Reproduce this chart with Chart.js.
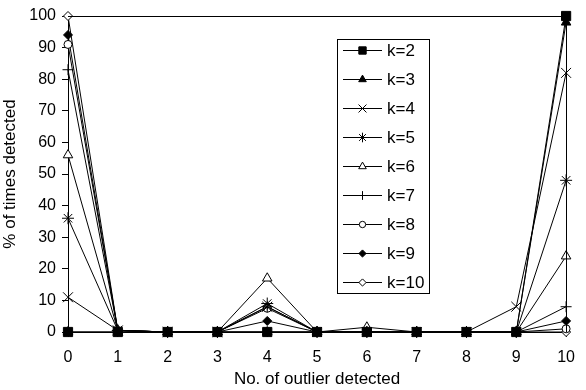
<!DOCTYPE html>
<html>
<head>
<meta charset="utf-8">
<script src="https://cdn.jsdelivr.net/npm/chart.js@4.4.1/dist/chart.umd.min.js"></script>
<style>
    html, body { margin: 0; padding: 0; background: #fff; }
    #wrap { width: 586px; height: 390px; }
</style>
</head>
<body>
<div id="wrap"><canvas id="outlierChart"></canvas></div>
<script>
const outliers = ['0', '1', '2', '3', '4', '5', '6', '7', '8', '9', '10'];
const yTicks = [0, 10, 20, 30, 40, 50, 60, 70, 80, 90, 100];

const k2 = [0, 0, 0, 0, 0, 0, 0, 0, 0, 0, 100];
const k3 = [0, 0, 0, 0, 0, 0, 0, 0, 0, 0, 98];
const k4 = [11, 0.5, 0, 0, 8, 0, 0, 0, 0, 8, 82];
const k5 = [36, 0.5, 0, 0, 9, 0, 0, 0, 0, 0, 48];
const k6 = [56, 0.5, 0, 0, 17, 0, 1.5, 0, 0, 0, 24];
const k7 = [83, 0.5, 0, 0, 8, 0, 0, 0, 0, 0, 8];
const k8 = [91, 0.5, 0, 0, 7.5, 0, 0, 0, 0, 0, 1];
const k9 = [94, 0.5, 0, 0, 3.5, 0, 0, 0, 0, 0, 3.5];
const k10 = [100, 0.5, 0, 0, 0, 0, 0, 0, 0, 0, 0];

const FONT = "'Liberation Sans', Arial, sans-serif";

function series(label, data, style, radius, filled) {
    return {
        label: label,
        data: data,
        borderColor: '#000',
        borderWidth: 1,
        pointStyle: style,
        pointRadius: radius,
        pointBorderWidth: 1,
        pointBorderColor: '#000',
        pointBackgroundColor: filled ? '#000' : '#fff',
        tension: 0,
        clip: false
    };
}

const frameAndLegend = {
    id: 'frameAndLegend',
    afterDatasetsDraw(chart) {
        const ctx = chart.ctx;
        const area = chart.chartArea;
        ctx.save();
        ctx.strokeStyle = '#000';
        ctx.lineWidth = 1;
        ctx.beginPath();
        ctx.moveTo(area.left, Math.round(area.top) + 0.5);
        ctx.lineTo(Math.round(area.right) + 0.5, Math.round(area.top) + 0.5);
        ctx.lineTo(Math.round(area.right) + 0.5, area.bottom);
        ctx.stroke();

        // legend box, inside the plot area
        const boxX = area.left + 269;
        const boxY = area.top + 23;
        const boxW = 92;
        const rowH = 29;
        const boxH = 254;
        ctx.fillStyle = '#fff';
        ctx.fillRect(boxX, boxY, boxW, boxH);
        ctx.strokeStyle = '#000';
        ctx.strokeRect(boxX + 0.5, boxY + 0.5, boxW, boxH);

        ctx.font = '17px ' + FONT;
        ctx.textBaseline = 'middle';
        ctx.textAlign = 'left';
        chart.data.datasets.forEach((ds, i) => {
            const y = Math.round(boxY + 11 + i * rowH) + 0.5;
            ctx.strokeStyle = '#000';
            ctx.lineWidth = 1;
            ctx.beginPath();
            ctx.moveTo(boxX + 6, y);
            ctx.lineTo(boxX + 45, y);
            ctx.stroke();
            ctx.fillStyle = ds.pointBackgroundColor;
            Chart.helpers.drawPoint(ctx, {
                pointStyle: ds.pointStyle,
                radius: ds.pointRadius * 0.8,
                borderWidth: 1,
                rotation: 0
            }, boxX + 25.5, y);
            ctx.fillStyle = '#000';
            ctx.fillText(ds.label, boxX + 50, y + 1);
        });
        ctx.restore();
    }
};

const ctx = document.getElementById('outlierChart').getContext('2d');
new Chart(ctx, {
    type: 'line',
    data: {
        labels: outliers,
        datasets: [
            series('k=2', k2, 'rect', 6.5, true),
            series('k=3', k3, 'triangle', 5.5, true),
            series('k=4', k4, 'crossRot', 7, false),
            series('k=5', k5, 'star', 6, false),
            series('k=6', k6, 'triangle', 5.5, false),
            series('k=7', k7, 'cross', 5.5, false),
            series('k=8', k8, 'circle', 4, false),
            series('k=9', k9, 'rectRot', 4.5, true),
            series('k=10', k10, 'rectRot', 4.5, false)
        ]
    },
    options: {
        responsive: true,
        maintainAspectRatio: false,
        animation: false,
        layout: { padding: { top: 16, right: 16, left: 0, bottom: 0 } },
        plugins: {
            legend: { display: false },
            tooltip: { enabled: false }
        },
        scales: {
            x: {
                offset: false,
                grid: { display: true, drawOnChartArea: false, drawTicks: true, tickLength: 5, color: '#000' },
                border: { display: true, color: '#000', width: 1 },
                ticks: { color: '#000', font: { family: FONT, size: 16 }, padding: 11, maxRotation: 0, autoSkip: false },
                title: { display: true, text: 'No. of outlier detected', color: '#000', font: { family: FONT, size: 17 }, padding: { top: 2, bottom: 0 } },
                afterFit: (scale) => { scale.height = 58; }
            },
            y: {
                min: 0,
                max: 100,
                afterBuildTicks: (scale) => { scale.ticks = yTicks.map(v => ({ value: v })); },
                grid: { display: true, drawOnChartArea: false, drawTicks: true, tickLength: 6, color: '#000' },
                border: { display: true, color: '#000', width: 1 },
                ticks: { color: '#000', font: { family: FONT, size: 16 }, padding: 6 },
                title: { display: true, text: '% of times detected', color: '#000', font: { family: FONT, size: 17 }, padding: { top: 0, bottom: 4 } },
                afterFit: (scale) => { scale.width = 68; }
            }
        }
    },
    plugins: [frameAndLegend]
});
</script>
</body>
</html>
